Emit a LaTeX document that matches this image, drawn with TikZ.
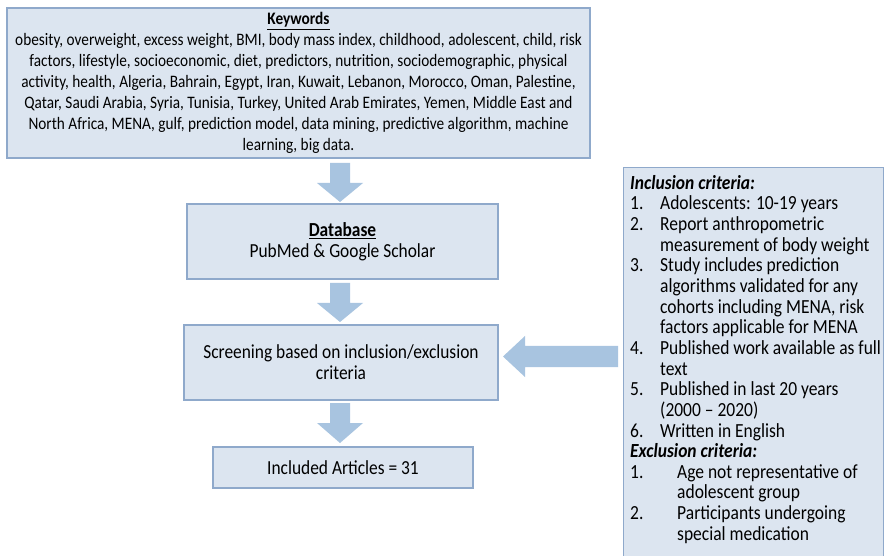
\documentclass[tikz,border=0pt]{standalone}
\usepackage{fontspec}
\setmainfont{Carlito}[FakeStretch=0.874]
\definecolor{boxfill}{HTML}{DCE5F0}
\definecolor{boxline}{HTML}{8FA9CB}
\definecolor{arrowfill}{HTML}{A8C4E0}
\newcommand{\itm}[2]{\makebox[#1][l]{#2}}
\begin{document}
\begin{tikzpicture}[x=1pt,y=-1pt,
  box/.style={draw=boxline, line width=1.2pt, fill=boxfill, inner sep=0pt, align=center},
  barrow/.style={fill=arrowfill, draw=none},
  kwfont/.style={font=\fontsize{17.5}{21}\selectfont},
  cfont/.style={font=\fontsize{19.9}{21}\selectfont},
  rfont/.style={font=\fontsize{20}{20.65}\selectfont}]
\useasboundingbox (0,0) rectangle (887,556);
\clip (0,0) rectangle (887,556);
\fill[white] (0,0) rectangle (887,556);

\node[box, kwfont, minimum width=583pt, minimum height=150pt] (kw) at (298.5,83)
 {\textbf{\underline{Keywords}}\\
  obesity, overweight, excess weight, BMI, body mass index, childhood, adolescent, child, risk\\
  factors, lifestyle, socioeconomic, diet, predictors, nutrition, sociodemographic, physical\\
  activity, health, Algeria, Bahrain, Egypt, Iran, Kuwait, Lebanon, Morocco, Oman, Palestine,\\
  Qatar, Saudi Arabia, Syria, Tunisia, Turkey, United Arab Emirates, Yemen, Middle East and\\
  North Africa, MENA, gulf, prediction model, data mining, predictive algorithm, machine\\
  learning, big data.};

\node[box, cfont, minimum width=311pt, minimum height=75pt] (db) at (342.5,241.5)
 {\textbf{\underline{Database}}\\ PubMed \& Google Scholar};

\node[box, cfont, minimum width=314pt, minimum height=75pt] (scr) at (341,362.5)
 {Screening based on inclusion/exclusion\\ criteria};

\node[box, cfont, minimum width=260pt, minimum height=41pt] (inc) at (343,467.5)
 {Included Articles = 31};

\node[box, anchor=north west, minimum width=260pt, minimum height=420pt] (crit) at (623,167) {};
\node[rfont, anchor=north west, inner sep=0pt, align=left] (crittext) at (630,175)
 {\textbf{\textit{Inclusion criteria:}}\\
  \itm{30pt}{1.}Adolescents: 10-19 years\\
  \itm{30pt}{2.}Report anthropometric\\
  \itm{30pt}{}measurement of body weight\\
  \itm{30pt}{3.}Study includes prediction\\
  \itm{30pt}{}algorithms validated for any\\
  \itm{30pt}{}cohorts including MENA, risk\\
  \itm{30pt}{}factors applicable for MENA\\
  \itm{30pt}{4.}Published work available as full\\
  \itm{30pt}{}text\\
  \itm{30pt}{5.}Published in last 20 years\\
  \itm{30pt}{}(2000 -- 2020)\\
  \itm{30pt}{6.}Written in English\\
  \textbf{\textit{Exclusion criteria:}}\\
  \itm{47pt}{1.}Age not representative of\\
  \itm{47pt}{}adolescent group\\
  \itm{47pt}{2.}Participants undergoing\\
  \itm{47pt}{}special medication};

% block arrows
\fill[barrow] (330,163) -- (350,163) -- (350,183) -- (363,183) -- (340,202) -- (317,183) -- (330,183) -- cycle;
\fill[barrow] (330,283) -- (350,283) -- (350,303) -- (363,303) -- (340,322) -- (317,303) -- (330,303) -- cycle;
\fill[barrow] (330,403) -- (350,403) -- (350,423) -- (363,423) -- (340,443) -- (317,423) -- (330,423) -- cycle;
\fill[barrow] (618,346) -- (618,367) -- (525,367) -- (525,377) -- (503,356.5) -- (525,336) -- (525,346) -- cycle;
\end{tikzpicture}
\end{document}
